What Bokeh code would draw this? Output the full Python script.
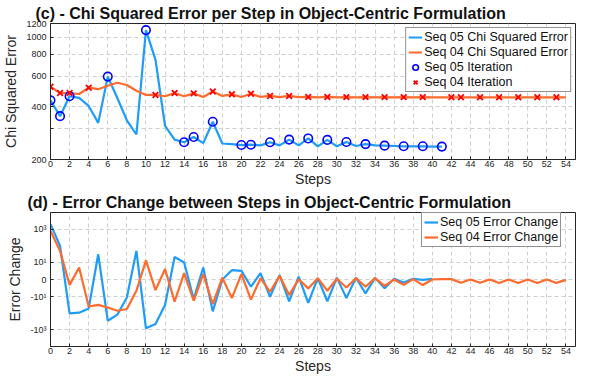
import numpy as np
from bokeh.plotting import figure
from bokeh.layouts import column
from bokeh.models import (Range1d, FixedTicker, Legend, LegendItem,
                          CustomJSTransform, CustomJSTickFormatter, ColumnDataSource)
from bokeh.transform import transform
from bokeh.embed import file_html
from bokeh.resources import INLINE

# ---------------- data ----------------
seq05_chi = [436, 354, 460, 450, 405, 324, 596, 450, 335, 278, 1100, 743, 311, 260,
             251, 269, 248, 329, 247, 245, 242, 243, 241, 251, 241, 260, 241, 264,
             238, 259, 238, 252, 239, 245, 241, 240, 239, 238, 238, 238, 237, 237]
seq04_chi = [522, 480, 480, 474, 515, 505, 528, 550, 534, 495, 468, 468, 460, 480,
             460, 478, 456, 490, 462, 472, 456, 476, 456, 462, 455, 462, 455,
             456, 454, 456, 454, 455, 454, 455, 454, 455, 454, 455, 454, 455, 454,
             454, 454, 454, 454, 454, 454, 454, 454, 454, 454, 454, 454, 454, 454]
seq05_iter_steps = [0, 1, 2, 6, 10, 14, 15, 17, 20, 21, 23, 25, 27, 29, 31, 33, 35, 37, 39, 41]
seq04_iter_steps = [0, 1, 2, 4, 11, 13, 15, 17, 19, 21, 23, 25, 27, 29, 31, 33, 35, 37, 39,
                    42, 43, 45, 47, 49, 51, 53]

seq05_change = [2000, 100, -105, -95, -52, 31, -287, -125, -10.8, 50, -825, -450, -32, 21,
                9.3, -13.6, 4.2, -79, 0, 2.6, 2.3, -1.7, 1.4, -9.7, 0.82, -19, 0.5, -24,
                0.2, -19, 0.3, -12, 0.3, -5.8, 0.25, -2.3, 0.1, -0.5, 0.1, -0.05, 0.1]
seq04_change = [794, 50, -1.1, 4.2, -40, -32, -46, -72, -57, -3.7, 13, -3.3, 3.2, -20,
                1.4, -17.6, 1.1, -28, 0.3, -12, 1.1, -15, 0.2, -4.4, 0.66, -7.5, 0.04,
                -2.4, 0.2, -3.7, 0.1, -2.0, 0.2, -1.7, 0.2, -1.4, 0, -1.1, 0.05, -1.15,
                0, 0.05, 0.05, -0.58, 0, -0.58, 0, -0.6, 0, -0.6, 0, -0.6, 0, -0.6, -0.05]

x_ticks = list(range(0, 55, 2))
chi_ticks = [200, 300, 400, 600, 800, 1000, 1200]
change_ticks = [-1000, -10, 0, 10, 1000]

# ---------------- style ----------------
FONT = "Liberation Sans"
AX = "#262626"
BLUE = "#1e9cf7"
ORANGE = "#ff6a2d"
GRID = "#cfcfcf"


def style(p, ylabel):
    p.title.text_font = FONT
    p.title.text_font_size = "16px"
    p.title.text_font_style = "bold"
    p.title.text_color = "#111111"
    p.title.align = "left"
    p.title.standoff = 3
    p.outline_line_color = AX
    p.outline_line_width = 1
    p.background_fill_color = "white"
    for ax in (p.xaxis[0], p.yaxis[0]):
        ax.axis_line_color = AX
        ax.major_tick_line_color = AX
        ax.major_tick_in = 3
        ax.major_tick_out = 0
        ax.minor_tick_line_color = None
        ax.major_label_text_font = FONT
        ax.major_label_text_font_size = "9px"
        ax.major_label_text_color = AX
        ax.axis_label_text_font = FONT
        ax.axis_label_text_font_size = "14px"
        ax.axis_label_text_font_style = "normal"
        ax.axis_label_text_color = AX
    p.xaxis[0].axis_label = "Steps"
    p.xaxis[0].major_label_standoff = 1
    p.xaxis[0].axis_label_standoff = 1
    p.yaxis[0].axis_label = ylabel
    p.yaxis[0].major_label_standoff = 4
    p.yaxis[0].axis_label_standoff = 4
    p.xaxis[0].ticker = FixedTicker(ticks=x_ticks, minor_ticks=[])
    for g in (p.xgrid[0], p.ygrid[0]):
        g.grid_line_color = GRID
        g.grid_line_dash = "4 3"
        g.grid_line_width = 1


def style_legend(lg):
    lg.label_text_font = FONT
    lg.label_text_font_size = "12.5px"
    lg.label_text_color = "#111111"
    lg.glyph_width = 14
    lg.glyph_height = 14
    lg.label_height = 14
    lg.label_standoff = 2
    lg.spacing = 1
    lg.padding = 2
    lg.border_line_color = AX
    lg.border_line_width = 1
    lg.background_fill_alpha = 1


# ---------------- (c) chi squared ----------------
p1 = figure(frame_width=525, frame_height=136, x_range=Range1d(0, 55),
            y_range=Range1d(200, 1200), y_axis_type="log",
            output_backend="svg", toolbar_location=None,
            min_border_left=48, min_border_right=10, min_border_top=23, min_border_bottom=31,
            title="(c) - Chi Squared Error per Step in Object-Centric Formulation")
style(p1, "Chi Squared Error")
p1.title.offset = -15
p1.yaxis[0].ticker = FixedTicker(ticks=chi_ticks, minor_ticks=[])
p1.yaxis[0].major_label_overrides = {300: ""}

src05 = ColumnDataSource(dict(step=list(range(len(seq05_chi))), chi=seq05_chi))
src04 = ColumnDataSource(dict(step=list(range(len(seq04_chi))), chi=seq04_chi))
it05 = ColumnDataSource(dict(step=seq05_iter_steps, chi=[seq05_chi[s] for s in seq05_iter_steps]))
it04 = ColumnDataSource(dict(step=seq04_iter_steps, chi=[seq04_chi[s] for s in seq04_iter_steps]))

l05 = p1.line("step", "chi", source=src05, line_color=BLUE, line_width=2.2)
l04 = p1.line("step", "chi", source=src04, line_color=ORANGE, line_width=2.2)
m05 = p1.scatter("step", "chi", source=it05, marker="circle", size=8.5, fill_color=None,
                 line_color="#0000ff", line_width=1.6)
m04 = p1.scatter("step", "chi", source=it04, marker="x", size=8,
                 line_color="#ff0000", line_width=1.8)

lg1 = Legend(items=[LegendItem(label="Seq 05 Chi Squared Error", renderers=[l05]),
                    LegendItem(label="Seq 04 Chi Squared Error", renderers=[l04]),
                    LegendItem(label="Seq 05 Iteration", renderers=[m05]),
                    LegendItem(label="Seq 04 Iteration", renderers=[m04])],
             location="top_right", margin=4)
style_legend(lg1)
p1.add_layout(lg1)

# ---------------- (d) error change ----------------
symlog = CustomJSTransform(
    func="return Math.sign(x) * Math.log10(1 + Math.abs(x));",
    v_func="return Array.from(xs, (v) => Math.sign(v) * Math.log10(1 + Math.abs(v)));")

p2 = figure(frame_width=525, frame_height=134, x_range=Range1d(0, 55), y_range=Range1d(-4, 4),
            output_backend="svg", toolbar_location=None,
            min_border_left=48, min_border_right=10, min_border_top=22, min_border_bottom=31,
            title="(d) - Error Change between Steps in Object-Centric Formulation")
style(p2, "Error Change")
p2.title.offset = -23
tick_pos = [float(np.sign(v) * np.log10(1 + abs(v))) for v in change_ticks]
p2.yaxis[0].ticker = FixedTicker(ticks=tick_pos, minor_ticks=[])
p2.yaxis[0].formatter = CustomJSTickFormatter(code="""
const v = Math.round(Math.sign(tick) * (Math.pow(10, Math.abs(tick)) - 1));
if (v === 0) return "0";
const e = Math.round(Math.log10(Math.abs(v)));
const sup = {1: "\u00b9", 2: "\u00b2", 3: "\u00b3"};
return (v < 0 ? "-" : "") + "10" + sup[e];
""")

c05 = ColumnDataSource(dict(step=list(range(len(seq05_change))), chg=seq05_change))
c04 = ColumnDataSource(dict(step=list(range(len(seq04_change))), chg=seq04_change))
k05 = p2.line("step", transform("chg", symlog), source=c05, line_color=BLUE, line_width=2.2)
k04 = p2.line("step", transform("chg", symlog), source=c04, line_color=ORANGE, line_width=2.2)

lg2 = Legend(items=[LegendItem(label="Seq 05 Error Change", renderers=[k05]),
                    LegendItem(label="Seq 04 Error Change", renderers=[k04])],
             location=(371, 99))
style_legend(lg2)
p2.add_layout(lg2)

layout = column(p1, p2, spacing=0)
open("out.html", "w").write(file_html(layout, INLINE))
